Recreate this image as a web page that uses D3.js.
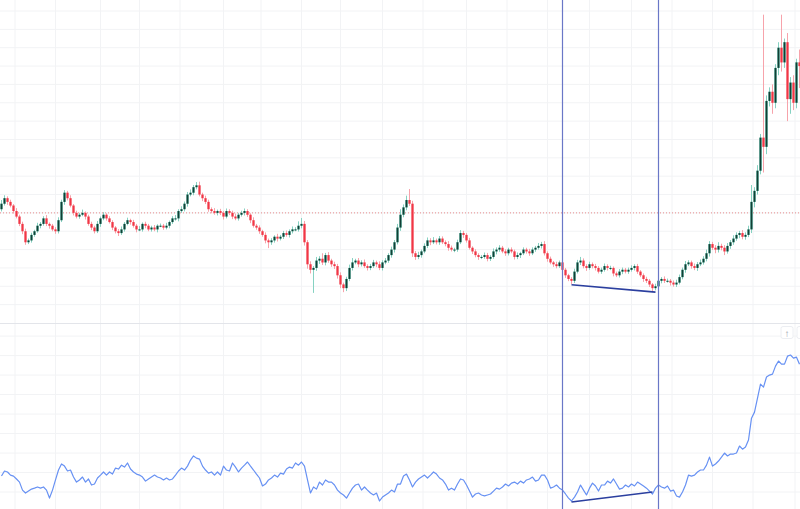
<!DOCTYPE html>
<html>
<head>
<meta charset="utf-8">
<script src="https://cdn.jsdelivr.net/npm/d3@7"></script>
<style>
  html,body{margin:0;padding:0;background:#fff;}
  svg{display:block;font-family:"Noto Sans",sans-serif;}
</style>
</head>
<body>
<div id="chart"></div>
<script>
// candle closes, one per bar (open = previous close)
var firstOpen = 31;
var closes = [
  32.5,34,33,32,30.5,29,27,25,22,22.5,
  24,25,26.5,27,28.5,27,26.5,25.5,25,28,
  33,35.5,34,32,30,29,29.5,30,29,27,
  26,25,27,28.5,29.5,28.5,27.5,26,25,24.5,
  25.5,27,28,27.5,26.5,25.5,25.5,27,26.5,25.5,
  26,25.5,26.5,26.5,26,26.5,27.5,28.5,28.5,30.5,
  31,32.5,35,35.5,37,37.5,35,34,33,31,
  30.5,30,30.5,30,29,30.5,30,29,28.5,29.5,
  30,30.5,29.5,28,26.5,26,25,24,22.5,22,
  22.5,23.5,23,23.5,24.5,24,25,25.5,25.5,26.5,
  27,22,16,14.5,15,17,17.5,16.5,18.5,17,
  16,15.5,13,10.5,9.5,12,15,16.5,17,16,
  16.5,15.5,15,15.5,16.5,16,15,16.5,17,18.5,
  20,22,26,29.5,31.5,33.5,32.5,19,18,18.5,
  19.5,21,22.5,22,22.5,22,23,22,21.5,20.5,
  20,20,22,24.5,24,22.5,20.5,19.5,18.5,18,
  18,18.5,17.5,18,19.5,20,20.5,19.5,19,20,
  19.5,18,18.5,19,20,19.5,19,20,20.5,21,
  21.5,19,17.5,16.5,16,15.5,16.5,14.5,13,12,
  11.5,14,16.5,17,15.5,15,16,15.5,15,14,
  14.5,15.5,15,15,13.5,13,14,14.5,14,14.5,
  15,15.5,14,13,12,11.5,10.5,9.5,10,11.5,
  12,11.5,11.5,11,10.5,11,12.5,14.5,16,16.5,
  15.5,15,16,16.5,17.5,19,21.5,20.5,20,21,
  20.5,19.5,21,22,23,24,24.5,23.5,24,25.5,
  33,36,41.5,50.5,48,60.5,63,60,69.5,75,
  71,76.5,61,65.5,60,71,70
];
// wick lengths above / below the body
var upperWicks = [
  1,0.8,0.5,0.6,0.4,0.8,0.5,0.6,0.7,0.5,
  0.6,0.4,0.8,0.5,0.6,0.9,0.4,0.5,0.6,0.8,
  0.6,0.7,0.5,0.8,0.4,0.6,0.5,0.9,0.4,0.5,
  0.6,0.5,0.8,0.5,0.7,0.4,0.6,0.5,0.4,0.6,
  0.8,0.5,0.7,0.4,0.6,0.5,0.9,0.4,0.6,0.5,
  0.5,0.7,0.4,0.6,0.5,0.8,0.4,0.6,0.9,0.5,
  0.8,0.6,0.7,0.9,0.6,0.9,1,0.5,0.7,0.6,
  0.5,0.8,0.4,0.6,0.5,0.7,0.5,0.6,0.8,0.5,
  0.6,0.7,0.5,0.4,0.8,0.5,0.6,0.4,0.7,0.5,
  0.6,0.4,0.8,0.5,0.6,0.7,0.5,0.8,0.6,1.2,
  1.6,0.8,0.6,0.8,0.5,1,0.7,1.5,0.6,0.8,
  0.5,0.7,0.6,0.8,0.5,0.6,0.9,1.2,0.5,0.7,
  0.6,0.8,0.5,0.6,0.7,0.5,0.8,0.6,0.7,0.5,
  0.8,0.6,1,1.5,0.8,1.2,3,0.8,0.6,0.9,
  0.5,0.7,0.8,0.6,0.9,0.5,0.7,0.6,0.5,0.8,
  0.6,0.5,0.7,0.8,0.6,0.5,0.7,0.4,0.6,0.5,
  0.5,0.7,0.6,0.5,0.8,0.6,0.7,0.5,0.6,0.5,
  0.6,0.5,0.7,0.4,0.6,0.5,0.7,0.6,0.5,0.8,
  0.6,0.8,0.5,0.6,0.4,0.7,0.5,0.6,0.5,0.4,
  0.5,0.8,0.7,1,0.6,0.5,0.7,0.5,0.6,0.5,
  0.6,0.7,0.5,0.6,0.4,0.5,0.7,0.6,0.5,0.6,
  0.7,0.5,0.6,0.4,0.5,0.6,0.5,0.4,0.7,0.6,
  0.5,0.7,0.6,0.5,0.6,0.8,0.7,0.6,0.9,0.6,
  0.5,0.7,0.6,0.8,0.7,1,0.8,0.6,0.7,1,
  0.6,0.7,0.8,0.6,0.9,0.7,0.6,0.8,0.7,1,
  4.6,1,1.5,1,33.5,1.5,1.2,2,1,1.5,
  9,1,2.5,1.5,2,1,3.5
];
var lowerWicks = [
  0.6,0.5,0.8,0.5,0.7,0.5,0.6,0.8,0.7,0.5,
  0.6,0.5,0.4,0.7,0.5,0.6,0.8,0.5,0.7,0.6,
  0.5,0.8,0.6,0.5,0.7,0.5,0.6,0.4,0.8,0.5,
  0.7,0.6,0.5,0.8,0.5,0.6,0.4,0.7,0.6,0.8,
  0.5,0.6,0.4,0.7,0.5,0.8,0.5,0.6,0.7,0.5,
  0.6,0.5,0.8,0.4,0.6,0.5,0.7,0.5,0.6,0.8,
  0.5,0.6,0.8,0.5,0.7,0.6,0.5,0.8,0.6,0.7,
  0.6,0.5,0.7,0.6,0.8,0.5,0.6,0.7,0.5,0.6,
  0.5,0.7,0.6,0.8,0.5,0.6,0.7,0.5,0.8,1.6,
  0.7,0.6,0.8,0.5,0.6,0.5,0.7,0.6,0.5,0.6,
  0.7,0.9,1.2,1,6.3,0.8,0.9,0.7,0.8,0.6,
  0.7,0.8,0.9,1,1.1,0.8,0.6,0.7,0.5,0.8,
  0.6,0.5,0.7,0.6,0.5,0.8,0.6,0.7,0.5,0.6,
  0.7,0.8,0.6,0.9,0.7,0.8,0.6,1,0.8,0.6,
  0.7,0.5,0.6,0.8,0.5,0.6,0.7,0.5,0.6,0.8,
  0.5,0.7,0.6,0.5,0.8,0.6,0.5,0.7,0.6,0.8,
  0.6,0.5,0.7,0.6,0.5,0.8,0.6,0.5,0.7,0.6,
  0.5,0.7,0.6,0.8,0.5,0.6,0.7,0.5,0.6,0.5,
  0.7,0.6,0.8,0.5,0.7,0.6,0.5,0.8,0.7,0.6,
  0.9,0.6,0.5,0.7,0.6,0.8,0.5,0.6,0.7,0.5,
  0.6,0.5,0.7,0.6,0.8,0.5,0.6,0.7,0.5,0.6,
  0.5,0.7,0.6,0.5,0.8,0.6,0.7,1.1,0.6,0.5,
  0.7,0.6,0.5,0.8,0.6,0.7,0.5,0.6,0.8,0.5,
  0.7,0.6,0.8,0.5,0.6,0.7,0.9,0.6,1,0.8,
  0.7,1,0.6,0.8,0.7,0.6,0.9,0.7,0.8,0.6,
  1,1.5,1,1,7,2,1.5,3,1.5,2,
  2.5,1.5,6,4,2,1.5,6
];
// lower pane indicator, one value per bar
var indicator = [
  8.2,10.8,10.3,8.7,8.2,6.7,5.1,1,-0.5,0.5,
  1.5,2,2.6,2,2.6,1,-3.1,1,6.2,11.3,
  14.4,13.3,10.8,11.3,7.7,5.1,6.2,7.7,5.1,6.7,
  3.6,4.1,7.2,8.7,10.3,8.7,10.3,9.2,12.3,11.8,
  13.8,12.8,14.9,11.8,10.3,9.2,8.7,7.7,5.6,6.7,
  7.7,8.7,7.7,7.2,6.2,7.2,6.2,6.7,8.7,10.8,
  12.3,11.3,13.3,16.4,18.5,17.4,16.9,13.3,11.3,9.7,
  10.3,8.7,10.3,8.7,13.3,11.3,10.8,14.9,12.8,10.3,
  12.3,13.8,15.4,13.3,11.3,9.2,7.2,3.1,4.1,6.2,
  7.2,8.7,7.7,9.7,9.2,11.8,12.8,12.3,14.9,13.8,
  15.4,13.3,6.2,-0.5,2.6,1.5,5.1,3.6,6.2,5.1,
  5.1,3.6,1,-0.5,-1.5,-3.1,-0.5,2,3.6,4.1,
  1,2.6,1,-0.5,-1.5,-0.5,-4.6,-2.6,-1.5,-0.5,
  1,0,4.1,4.1,8.2,9.2,6.2,2.6,5.1,6.7,
  7.7,8.7,7.2,8.7,10.3,9.2,7.2,6.2,4.1,1,
  2,1,4.1,6.7,6.2,3.6,0.5,-2.6,-1,-0.5,
  -1.5,-2,-1.5,-1,0.5,2,1.5,2.6,4.1,3.1,
  4.6,5.1,4.1,5.6,4.6,6.2,6.7,7.7,5.6,6.2,
  8.7,8.7,6.2,2,2.6,3.6,2,1,-1,-3.1,
  -4.6,-2.6,0,3.6,1,-1.5,2,4.6,3.1,0.5,
  3.6,3.6,5.6,4.6,6.7,4.1,1.5,2,3.6,2.6,
  4.1,3.1,5.1,4.1,3.1,2,0.5,-1,2,3.6,
  2.6,2,3.1,0.5,1,-2,-2.6,0,3.6,8.7,
  8.2,8.7,10.3,11.3,11.3,13.8,17.9,13.3,14.4,15.9,
  17.9,20,18.5,19.5,19.5,20,23.6,22,23.1,26.7,
  37.9,41,48.2,55.4,53.8,59,60,60.5,64.6,67.2,
  65.6,65.6,69.7,70.3,68.7,69.2,65.6
];
// time grid (bar index), price level line, range markers, divergence lines
var timeTicks = [4.5,18,33,46,59.5,74,86.5,100,113,127,140.5,155,168.5,182,196,210,223.5,237,250.5,264.5];
var priceLevel = 30;
var rangeMarkers = [187, 219];
var priceTrend = [{i:190, v:10.4}, {i:218, v:8.4}];
var indicatorTrend = [{i:190, v:-5.1}, {i:217, v:0}];

var W = 800, H = 509;
var paneSplit = 323;

var svg = d3.select("#chart").append("svg")
  .attr("width", W).attr("height", H);

var x = d3.scaleLinear().domain([0, closes.length - 1]).range([1.5, 1.5 + 3 * (closes.length - 1)]);
var yPrice = d3.scaleLinear().domain([0, 88]).range([paneSplit, 0]);
var yInd = d3.scaleLinear().domain([-8.7, 86.2]).range([H, paneSplit + 1]);

// clip areas for both panes
var defs = svg.append("defs");
defs.append("clipPath").attr("id", "clipTop").append("rect")
  .attr("x", 0).attr("y", 0).attr("width", W).attr("height", paneSplit);
defs.append("clipPath").attr("id", "clipBot").append("rect")
  .attr("x", 0).attr("y", paneSplit + 1).attr("width", W).attr("height", H - paneSplit - 1);

var gridColor = "#f2f3f5";

// grid
var grid = svg.append("g");
grid.selectAll(".vgrid").data(timeTicks).enter().append("line")
  .attr("x1", function(d){ return x(d); }).attr("x2", function(d){ return x(d); })
  .attr("y1", 0).attr("y2", H)
  .attr("stroke", gridColor).attr("stroke-width", 1);
grid.selectAll(".hgridTop").data(d3.range(5, 88, 5)).enter().append("line")
  .attr("x1", 0).attr("x2", W)
  .attr("y1", function(d){ return yPrice(d); }).attr("y2", function(d){ return yPrice(d); })
  .attr("stroke", gridColor).attr("stroke-width", 1);
grid.selectAll(".hgridBot").data(d3.range(0, 81, 10)).enter().append("line")
  .attr("x1", 0).attr("x2", W)
  .attr("y1", function(d){ return yInd(d); }).attr("y2", function(d){ return yInd(d); })
  .attr("stroke", gridColor).attr("stroke-width", 1);

// pane separator
svg.append("line")
  .attr("x1", 0).attr("x2", W).attr("y1", paneSplit + 0.5).attr("y2", paneSplit + 0.5)
  .attr("stroke", "#e3e5ea").attr("stroke-width", 1);

// price level dotted line
svg.append("line")
  .attr("x1", 0).attr("x2", W)
  .attr("y1", yPrice(priceLevel)).attr("y2", yPrice(priceLevel))
  .attr("stroke", "#e57373").attr("stroke-width", 1).attr("stroke-dasharray", "1,2")
  .attr("opacity", 0.8);

// candles
var candles = closes.map(function(c, i){
  var o = i === 0 ? firstOpen : closes[i - 1];
  return {
    i: i, o: o, c: c,
    h: Math.max(o, c) + upperWicks[i],
    l: Math.min(o, c) - lowerWicks[i]
  };
});
var upCol = {core: "#123f35", edge: "#86d2c2"};
var dnCol = {core: "#f23645", edge: "#f7a3ab"};

var gTop = svg.append("g").attr("clip-path", "url(#clipTop)");
var cg = gTop.selectAll(".candle").data(candles).enter().append("g");
cg.append("line")
  .attr("x1", function(d){ return x(d.i); }).attr("x2", function(d){ return x(d.i); })
  .attr("y1", function(d){ return yPrice(d.h); }).attr("y2", function(d){ return yPrice(d.l); })
  .attr("stroke", function(d){ return d.c >= d.o ? upCol.edge : dnCol.edge; })
  .attr("stroke-width", 1);
cg.append("rect")
  .attr("x", function(d){ return x(d.i) - 1.4; })
  .attr("width", 2.8)
  .attr("y", function(d){ return yPrice(Math.max(d.o, d.c)); })
  .attr("height", function(d){ return Math.max(1, yPrice(Math.min(d.o, d.c)) - yPrice(Math.max(d.o, d.c))); })
  .attr("fill", function(d){ return d.c >= d.o ? upCol.edge : dnCol.edge; });
cg.append("rect")
  .attr("x", function(d){ return x(d.i) - 0.9; })
  .attr("width", 1.8)
  .attr("y", function(d){ return yPrice(Math.max(d.o, d.c)); })
  .attr("height", function(d){ return Math.max(1, yPrice(Math.min(d.o, d.c)) - yPrice(Math.max(d.o, d.c))); })
  .attr("fill", function(d){ return d.c >= d.o ? upCol.core : dnCol.core; });

// indicator line
var gBot = svg.append("g").attr("clip-path", "url(#clipBot)");
var indLine = d3.line()
  .x(function(d, i){ return x(i); })
  .y(function(d){ return yInd(d); });
gBot.append("path")
  .datum(indicator)
  .attr("d", indLine)
  .attr("fill", "none")
  .attr("stroke", "#6791f3")
  .attr("stroke-width", 1.2)
  .attr("stroke-linejoin", "round");

// range markers through both panes
svg.selectAll(".marker").data(rangeMarkers).enter().append("line")
  .attr("x1", function(d){ return x(d); }).attr("x2", function(d){ return x(d); })
  .attr("y1", 0).attr("y2", H)
  .attr("stroke", "#6a77c7").attr("stroke-width", 1.2);

// divergence lines
var trendLineTop = d3.line().x(function(d){ return x(d.i); }).y(function(d){ return yPrice(d.v); });
var trendLineBot = d3.line().x(function(d){ return x(d.i); }).y(function(d){ return yInd(d.v); });
svg.append("path").datum(priceTrend).attr("d", trendLineTop)
  .attr("fill", "none").attr("stroke", "#2b3f9f").attr("stroke-width", 1.6);
svg.append("path").datum(indicatorTrend).attr("d", trendLineBot)
  .attr("fill", "none").attr("stroke", "#2b3f9f").attr("stroke-width", 1.6);

// small pane buttons
var btn = svg.append("g");
btn.append("rect").attr("x", 781).attr("y", 326.5).attr("width", 12).attr("height", 12).attr("rx", 2)
  .attr("fill", "#fff").attr("stroke", "#eceef2");
btn.append("text").attr("x", 787).attr("y", 336.5).attr("text-anchor", "middle")
  .attr("font-size", 10).attr("fill", "#9aa0aa").text("↑");
btn.append("rect").attr("x", 797).attr("y", 326.5).attr("width", 12).attr("height", 12).attr("rx", 2)
  .attr("fill", "#fff").attr("stroke", "#eceef2");
</script>
</body>
</html>
